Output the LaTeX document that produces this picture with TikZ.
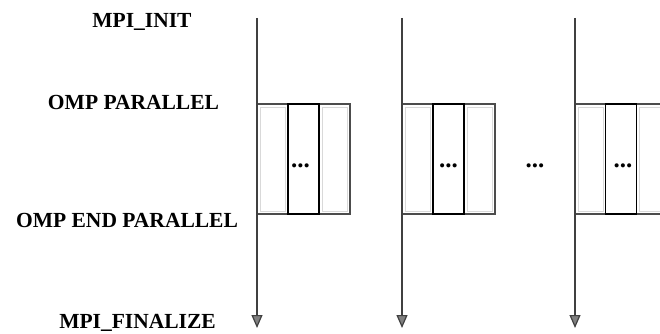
\documentclass[tikz,border=0pt]{standalone}
\usepackage{fontspec}
\setmainfont{Liberation Serif}
\usetikzlibrary{arrows.meta}
\begin{document}
\begin{tikzpicture}[x=1pt,y=-1pt,
  lbl/.style={font=\fontsize{21.5}{24}\selectfont\bfseries, inner sep=0pt, anchor=center},
  proc/.style={draw=black!75, line width=1.4pt, -{Triangle[width=11pt,length=13pt,fill=black!50,line width=1.2pt]}},
  outer/.style={draw=black!70, line width=1.4pt},
  side/.style={draw=black!15, line width=1pt},
  midbox/.style={draw=black, line width=1.6pt, minimum width=31pt, minimum height=110pt, inner sep=0pt},
  dots/.style={font=\fontsize{25}{25}\selectfont\bfseries, inner sep=0pt, anchor=base}
]
\useasboundingbox (0,0) rectangle (660,334);
% labels
\node[lbl] (init) at (142,22) {MPI\_INIT};
\node[lbl] (par) at (133.5,102) {OMP PARALLEL};
\node[lbl] (endpar) at (127,220) {OMP END PARALLEL};
\node[lbl] (fin) at (137.5,323) {MPI\_FINALIZE};
% process lines
\foreach \n/\x in {a/257,b/402,c/575}{
  \coordinate (\n top) at (\x,18);
  \coordinate (\n bot) at (\x,328);
}
% group 1 side cells
\draw[side] (260,107) rectangle (285,211);
\draw[side] (322,107) rectangle (347,211);
\draw[outer] (257,104) -- (350,104) -- (350,214) -- (257,214);
\node[midbox] (m1) at (303.5,159) {};
\node[dots] (d1) at (300.5,167) {...};
% group 2
\draw[side] (405,107) rectangle (430,211);
\draw[side] (467,107) rectangle (492,211);
\draw[outer] (402,104) -- (495,104) -- (495,214) -- (402,214);
\node[midbox] (m2) at (448.5,159) {};
\node[dots] (d2) at (448.5,167) {...};
% between dots
\node[dots] (dm) at (535,167) {...};
% group 3
\draw[side] (578,107) rectangle (603,211);
\draw[side] (639,107) -- (660,107) (639,107) -- (639,211) -- (660,211);
\draw[outer] (575,104) -- (660,104) (575,214) -- (660,214);
\node[midbox] (m3) at (621,159) {};
\node[dots] (d3) at (623,167) {...};
% arrows
\foreach \n in {a,b,c}{
  \draw[proc] (\n top) -- (\n bot);
}
\end{tikzpicture}
\end{document}
